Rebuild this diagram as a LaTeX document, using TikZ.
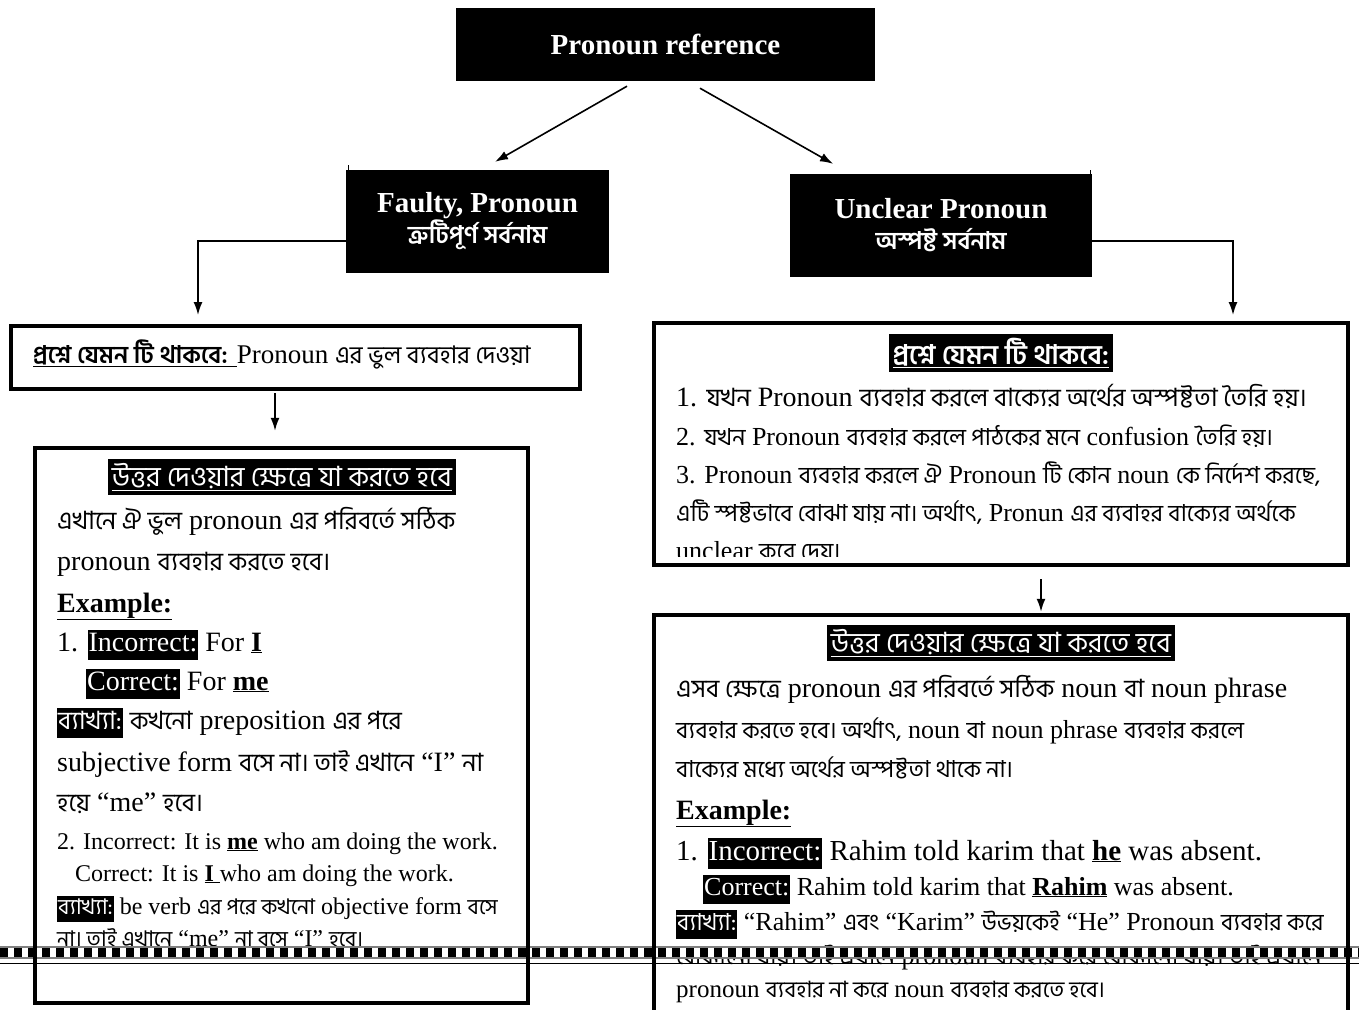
\documentclass[tikz,border=0pt]{standalone}
\usepackage{fontspec}
\setmainfont{Liberation Serif}
\newfontfamily\bnfont[Script=Bengali,Scale=0.9]{Hind Siliguri}
\usetikzlibrary{arrows.meta,calc}
\newcommand{\bn}[1]{{\bnfont #1}}
\newcommand{\hl}[1]{{\setlength{\fboxsep}{0pt}\colorbox{black}{\strut\kern1pt\textcolor{white}{#1}\kern1pt}}}
\newcommand{\hltitle}[1]{{\setlength{\fboxsep}{4pt}\colorbox{black}{\textcolor{white}{\underline{#1}}}}}
\newcommand{\ul}[1]{\underline{\textbf{#1}}}

\tikzset{
	blackbox/.style={fill=black, text=white, inner sep=0pt, align=center, font=\bfseries\fontsize{29}{34}\selectfont},
	frame/.style={draw, line width=4.5pt, inner sep=0pt},
	arr/.style={-{Latex[length=13pt,width=9pt]}, line width=1.6pt},
	ln/.style={anchor=base west, inner sep=0pt, font=\fontsize{28}{30}\selectfont},
	lnmid/.style={ln, font=\fontsize{26}{29}\selectfont},
	lnsmall/.style={ln, font=\fontsize{24}{26}\selectfont},
	title/.style={anchor=center, inner sep=0pt, font=\fontsize{31}{33}\selectfont},
}

\begin{document}
\begin{tikzpicture}[x=1pt,y=-1pt]
				\useasboundingbox (0,0) rectangle (1359,1009);
				
				% headings
				\node[blackbox, minimum width=419, minimum height=73] (top) at (665.5,44.5) {Pronoun reference};
				\node[blackbox, minimum width=263, minimum height=103] (faulty) at (477.5,221.5) {Faulty, Pronoun\\[-3pt]{\bnfont\fontsize{27}{28}\selectfont ত্রুটিপূর্ণ সর্বনাম}};
				\node[blackbox, minimum width=302, minimum height=103] (unclear) at (941,225.5) {Unclear Pronoun\\[-3pt]{\bnfont\fontsize{27}{28}\selectfont অস্পষ্ট সর্বনাম}};
				\draw[line width=1pt] (348,165) -- (348,172);
				\draw[line width=1pt] (1090,170) -- (1090,178);
				
				% left side
				\node[ln, font=\fontsize{27}{30}\selectfont] (lq) at (33,363) {\underline{\bn{\bfseries প্রশ্নে যেমন টি থাকবে:} }Pronoun \bn{এর ভুল ব্যবহার দেওয়া}};
				
				\node[title] (latitle) at (282,477) {\hltitle{\bn{উত্তর দেওয়ার ক্ষেত্রে যা করতে হবে}}};
				\node[ln] (la1) at (57,529) {\bn{এখানে ঐ ভুল} pronoun \bn{এর পরিবর্তে সঠিক}};
				\node[ln] (la2) at (57,570) {pronoun \bn{ব্যবহার করতে হবে।}};
				\node[ln] (la3) at (57,612) {\ul{Example:}};
				\node[ln] (la4) at (57,651) {1. \hl{Incorrect:} For \ul{I}};
				\node[ln] (la5) at (86,690) {\hl{Correct:} For \ul{me}};
				\node[ln] (la6) at (57,729) {\hl{\bn{ব্যাখ্যা:}} \bn{কখনো} preposition \bn{এর পরে}};
				\node[ln] (la7) at (57,771) {subjective form \bn{বসে না। তাই এখানে} “I” \bn{না}};
				\node[ln] (la8) at (57,811) {\bn{হয়ে} “me” \bn{হবে।}};
				\node[lnsmall] (la9) at (57,849) {2. Incorrect: It is \ul{me} who am doing the work.};
				\node[lnsmall] (la10) at (75,881) {Correct: It is \ul{I\ }who am doing the work.};
				\node[lnsmall] (la11) at (57,914) {\hl{\bn{ব্যাখ্যা:}} be verb \bn{এর পরে কখনো} objective form \bn{বসে}};
				\node[lnsmall] (la12) at (57,946) {\bn{না। তাই এখানে} “me” \bn{না বসে} “I” \bn{হবে।}};
				
				% right side
				\node[title, font=\fontsize{30}{32}\selectfont] (rqtitle) at (1001,353) {\hltitle{\bn{\bfseries প্রশ্নে যেমন টি থাকবে:}}};
				\begin{scope}
					\clip (656,326) rectangle (1346,556);
					\node[ln] (rq1) at (676,406) {1. \bn{যখন} Pronoun \bn{ব্যবহার করলে বাক্যের অর্থের অস্পষ্টতা তৈরি হয়।}};
					\node[lnmid] (rq2) at (676,445) {2. \bn{যখন} Pronoun \bn{ব্যবহার করলে পাঠকের মনে} confusion \bn{তৈরি হয়।}};
					\node[lnmid] (rq3) at (676,483) {3. Pronoun \bn{ব্যবহার করলে ঐ} Pronoun \bn{টি কোন} noun \bn{কে নির্দেশ করছে,}};
					\node[lnmid] (rq4) at (676,521) {\bn{এটি স্পষ্টভাবে বোঝা যায় না। অর্থাৎ,} Pronun \bn{এর ব্যবাহর বাক্যের অর্থকে}};
					\node[lnmid] (rq5) at (676,559) {unclear \bn{করে দেয়।}};
				\end{scope}
				
				\node[title] (ratitle) at (1001,643) {\hltitle{\bn{উত্তর দেওয়ার ক্ষেত্রে যা করতে হবে}}};
				\node[ln] (ra1) at (676,697) {\bn{এসব ক্ষেত্রে} pronoun \bn{এর পরিবর্তে সঠিক} noun \bn{বা} noun phrase};
				\node[lnmid] (ra2) at (676,738) {\bn{ব্যবহার করতে হবে। অর্থাৎ,} noun \bn{বা} noun phrase \bn{ব্যবহার করলে}};
				\node[lnmid] (ra3) at (676,777) {\bn{বাক্যের মধ্যে অর্থের অস্পষ্টতা থাকে না।}};
				\node[ln] (ra4) at (676,819) {\ul{Example:}};
				\node[ln, font=\fontsize{29}{31}\selectfont] (ra5) at (676,860) {1. \hl{Incorrect:} Rahim told karim that \ul{he} was absent.};
				\node[lnmid] (ra6) at (703,895) {\hl{Correct:} Rahim told karim that \ul{Rahim} was absent.};
				\node[lnmid] (ra7) at (676,930) {\hl{\bn{ব্যাখ্যা:}} “Rahim” \bn{এবং} “Karim” \bn{উভয়কেই} “He” Pronoun \bn{ব্যবহার করে}};
				\node[lnmid] (ra8) at (676,964) {\bn{বোঝানো যায়। তাই এখানে} pronoun \bn{ব্যবহার করে বোঝানো যায়। তাই এখানে}};
				\node[lnmid, font=\fontsize{25}{28}\selectfont] (ra9) at (676,997) {pronoun \bn{ব্যবহার না করে} noun \bn{ব্যবহার করতে হবে।}};
				
				% page break strip
				\fill[white] (0,946) rectangle (1359,959);
				\foreach \x in {0,14,...,1358}
					\fill[black] (\x,948) rectangle ++(8,10);
				\draw[gray, line width=1.2pt] (0,947) -- (1359,947);
				\draw[gray, line width=1.2pt] (0,958) -- (1359,958);
				\draw[line width=0.8pt] (0,963) -- (1359,963);
				
				% frames
				\node[frame, minimum width=569, minimum height=63] (leftq) at (295.5,357.5) {};
				\node[frame, minimum width=493, minimum height=555] (lefta) at (281.5,725.5) {};
				\node[frame, minimum width=694, minimum height=242] (rightq) at (1001,444) {};
				\node[frame, minimum width=694, minimum height=415] (righta) at (1001,822.5) {};
				
				% connectors
				\coordinate (lqin) at (198,315);
				\coordinate (rqin) at (1233,315);
				\draw[arr] ([xshift=-38.5pt,yshift=-5pt]top.south) -- ([xshift=17.5pt,yshift=8pt]faulty.north);
				\draw[arr] ([xshift=34.5pt,yshift=-7pt]top.south) -- ([xshift=-108pt,yshift=10pt]unclear.north);
				\draw[arr] ([yshift=-19.5pt]faulty.west) -| (lqin);
				\draw[arr] ([yshift=-15.5pt]unclear.east) -| (rqin);
				\draw[arr] ([xshift=-20.5pt,yshift=-2pt]leftq.south) -- ([xshift=-6.5pt,yshift=15pt]lefta.north);
				\draw[arr] ([xshift=40pt,yshift=-12pt]rightq.south) -- ([xshift=40pt,yshift=1pt]righta.north);
			\end{tikzpicture}
\end{document}
